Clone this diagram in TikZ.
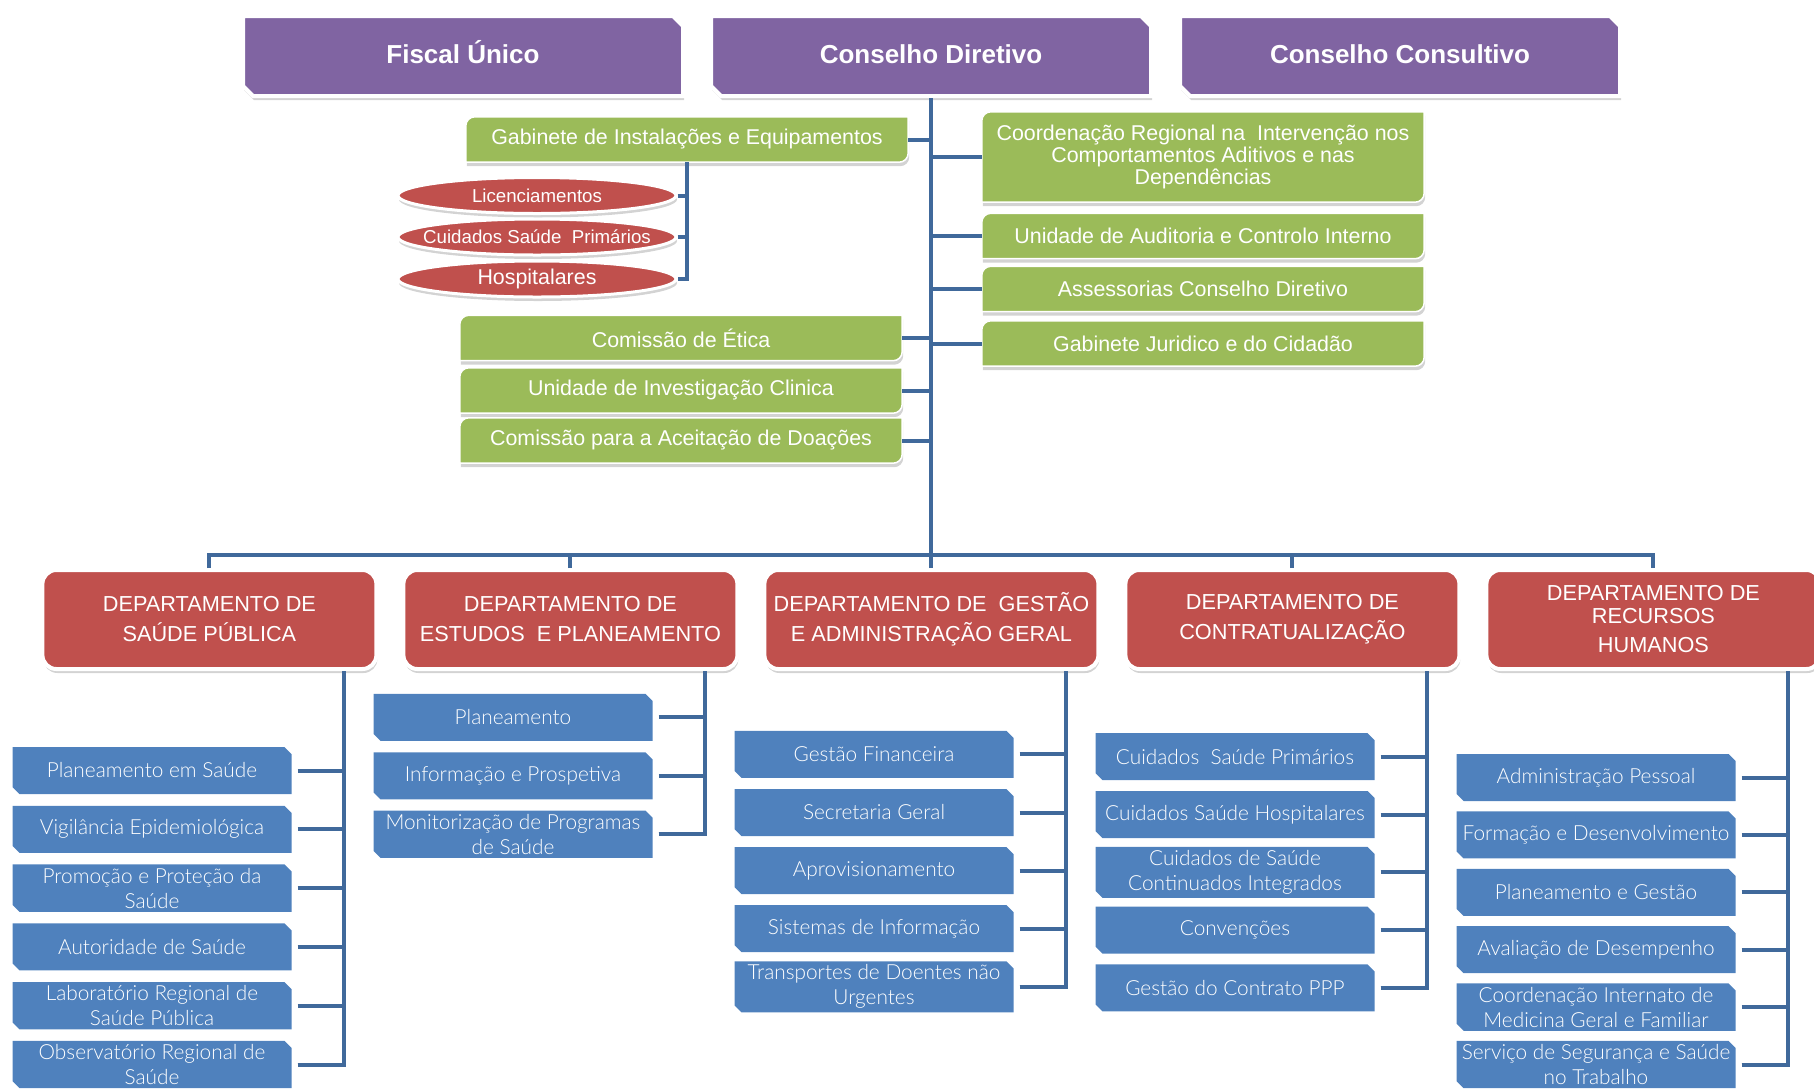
\documentclass[tikz,border=0pt]{standalone}
\usepackage{fontspec}
\setmainfont{Liberation Sans}
\newfontfamily\lightfont{Lato Light}
\usetikzlibrary{shapes.misc,shapes.geometric,shadows,backgrounds}
\definecolor{purplebox}{HTML}{8064A2}
\definecolor{greenbox}{HTML}{9BBB59}
\definecolor{redbox}{HTML}{C0504D}
\definecolor{bluebox}{HTML}{4F81BD}
\definecolor{linkblue}{HTML}{40699B}
\newcommand{\flattext}[1]{\makebox[0pt]{#1}}
\tikzset{
  boxshadow/.style={drop shadow={shadow xshift=1pt,shadow yshift=-4pt,opacity=.35}},
  council/.style={chamfered rectangle,chamfered rectangle corners={north east,south west},
    chamfered rectangle xsep=5pt,chamfered rectangle ysep=5pt,fill=purplebox,draw=white,
    line width=4pt,boxshadow,minimum width=440pt,minimum height=80pt,inner sep=0pt,
    text height=19pt,text depth=5pt,text=white,font=\bfseries\fontsize{26}{30}\selectfont},
  unit/.style={minimum width=442pt,minimum height=45pt,inner sep=0pt,text=white,
    align=center,font=\fontsize{21.4}{22}\selectfont},
  unitshape/.style={fill=greenbox,draw=white,line width=1.5pt,boxshadow},
  area/.style={ellipse,fill=redbox,draw=white,line width=3pt,boxshadow,minimum width=278pt,
    minimum height=36pt,inner sep=0pt,text=white,font=\fontsize{18.7}{20}\selectfont},
  dept/.style={rectangle,rounded corners=14pt,fill=redbox,draw=white,line width=4pt,boxshadow,
    minimum width=334pt,minimum height=99pt,inner sep=0pt,text=white,align=center,
    font=\fontsize{21.7}{30}\selectfont},
  sectionbox/.style={chamfered rectangle,chamfered rectangle corners={north east,south west},
    chamfered rectangle xsep=3.5pt,chamfered rectangle ysep=3.5pt,fill=bluebox,minimum width=279pt,
    minimum height=47pt,inner sep=0pt,text=white,align=center,
    font=\lightfont\fontsize{20.8}{25}\selectfont},
  linkline/.style={draw=linkblue,line width=4pt},
}
\begin{document}
\begin{tikzpicture}[x=1pt,y=-1pt]
\useasboundingbox (0,0) rectangle (1814,1088);

\node[council] (fu) at (463,56) {Fiscal Único};
\node[council] (cd) at (931,56) {Conselho Diretivo};
\node[council] (cc) at (1400,56) {Conselho Consultivo};

\node[unit] (gie) at (687,139.5) {Gabinete de Instalações e Equipamentos};
\node[unit] (cet) at (681,338) {Comissão de Ética};
\node[unit] (uic) at (681,390.5) {Unidade de Investigação Clinica};
\node[unit] (cad) at (681,440.5) {Comissão para a Aceitação de Doações};
\node[unit,minimum height=90pt] (crc) at (1203,157) {Coordenação Regional na~ Intervenção nos\\Comportamentos Aditivos e nas\\Dependências};
\node[unit] (uac) at (1203,236) {Unidade de Auditoria e Controlo Interno};
\node[unit] (acd) at (1203,289) {Assessorias Conselho Diretivo};
\node[unit] (gjc) at (1203,343.5) {Gabinete Juridico e do Cidadão};
\begin{scope}[on background layer]
\foreach \n in {gie,cet,uic,cad,crc,uac,acd,gjc}
  \draw[unitshape] ([xshift=9pt]\n.north west) -- (\n.north east)
    -- ([yshift=9pt]\n.south east) arc[start angle=0,end angle=-90,radius=9pt]
    -- (\n.south west) -- ([yshift=-9pt]\n.north west) arc[start angle=180,end angle=90,radius=9pt] -- cycle;
\end{scope}

\node[area] (lic) at (537,195.5) {\flattext{Licenciamentos}};
\node[area] (csp) at (537,237) {\flattext{Cuidados Saúde~ Primários}};
\node[area,font=\fontsize{21.4}{24}\selectfont] (hos) at (537,279) {\flattext{Hospitalares}};

\draw[linkline] (cd.south) -- (931,569);
\foreach \n in {gie,cet,uic,cad} \draw[linkline] (\n.east) -- (\n.east -| cd.south);
\foreach \n in {crc,uac,acd,gjc} \draw[linkline] (\n.west) -- (\n.west -| cd.south);
\draw[linkline] (gie.south) |- (hos.east);
\foreach \n in {lic,csp} \draw[linkline] (\n.east) -- (\n.east -| gie.south);

\node[dept] (d1) at (209.4,619.5) {DEPARTAMENTO DE\\SAÚDE PÚBLICA};
\node[dept] (d2) at (570.4,619.5) {DEPARTAMENTO DE\\ESTUDOS~ E PLANEAMENTO};
\node[dept] (d3) at (931.4,619.5) {DEPARTAMENTO DE~ GESTÃO\\E ADMINISTRAÇÃO GERAL};
\node[dept] (d4) at (1292.4,619.5) {DEPARTAMENTO DE\\CONTRATUALIZAÇÃO};
\node[dept] (d5) at (1653.4,619.5) {DEPARTAMENTO DE\\[-7pt]RECURSOS\\[-1pt]HUMANOS};

\coordinate (bus) at (931,555);
\draw[linkline] (d1.north) |- (bus) -| (d5.north);
\foreach \d in {d2,d3,d4} \draw[linkline] (\d.north) -- (\d.north |- bus);
\foreach \d in {d1,d2,d3,d4,d5} \coordinate (\d v) at ([xshift=-34pt]\d.south east);

\foreach \t [count=\i] in {Planeamento em Saúde,Vigilância Epidemiológica,{Promoção e Proteção da\\Saúde},
  Autoridade de Saúde,{Laboratório Regional de\\Saúde Pública},{Observatório Regional de\\Saúde}} {
  \node[sectionbox] (d1s\i) at (152,711.7+58.8*\i) {\t};
  \draw[linkline] ([xshift=6pt]d1s\i.east) -- (d1s\i.east -| d1v);
}
\draw[linkline] ([xshift=6pt]d1s6.east) -| (d1v);

\foreach \t [count=\i] in {Planeamento,Informação e Prospetiva,{Monitorização de Programas\\de Saúde}} {
  \node[sectionbox] (d2s\i) at (513,658.8+58.5*\i) {\t};
  \draw[linkline] ([xshift=6pt]d2s\i.east) -- (d2s\i.east -| d2v);
}
\draw[linkline] ([xshift=6pt]d2s3.east) -| (d2v);

\foreach \t [count=\i] in {Gestão Financeira,Secretaria Geral,Aprovisionamento,Sistemas de Informação,
  {Transportes de Doentes não\\Urgentes}} {
  \node[sectionbox] (d3s\i) at (874,696.3+58.1*\i) {\t};
  \draw[linkline] ([xshift=6pt]d3s\i.east) -- (d3s\i.east -| d3v);
}
\draw[linkline] ([xshift=6pt]d3s5.east) -| (d3v);

\foreach \t [count=\i] in {Cuidados~ Saúde Primários,Cuidados Saúde Hospitalares,
  {Cuidados de Saúde\\Continuados Integrados},Convenções,Gestão do Contrato PPP} {
  \node[sectionbox] (d4s\i) at (1235,698.9+57.8*\i) {\t};
  \draw[linkline] ([xshift=6pt]d4s\i.east) -- (d4s\i.east -| d4v);
}
\draw[linkline] ([xshift=6pt]d4s5.east) -| (d4v);

\foreach \t [count=\i] in {Administração Pessoal,Formação e Desenvolvimento,Planeamento e Gestão,
  Avaliação de Desempenho,{Coordenação Internato de\\Medicina Geral e Familiar},
  {Serviço de Segurança e Saúde\\no Trabalho}} {
  \node[sectionbox] (d5s\i) at (1596,720.1+57.4*\i) {\t};
  \draw[linkline] ([xshift=6pt]d5s\i.east) -- (d5s\i.east -| d5v);
}
\draw[linkline] ([xshift=6pt]d5s6.east) -| (d5v);
\end{tikzpicture}
\end{document}
